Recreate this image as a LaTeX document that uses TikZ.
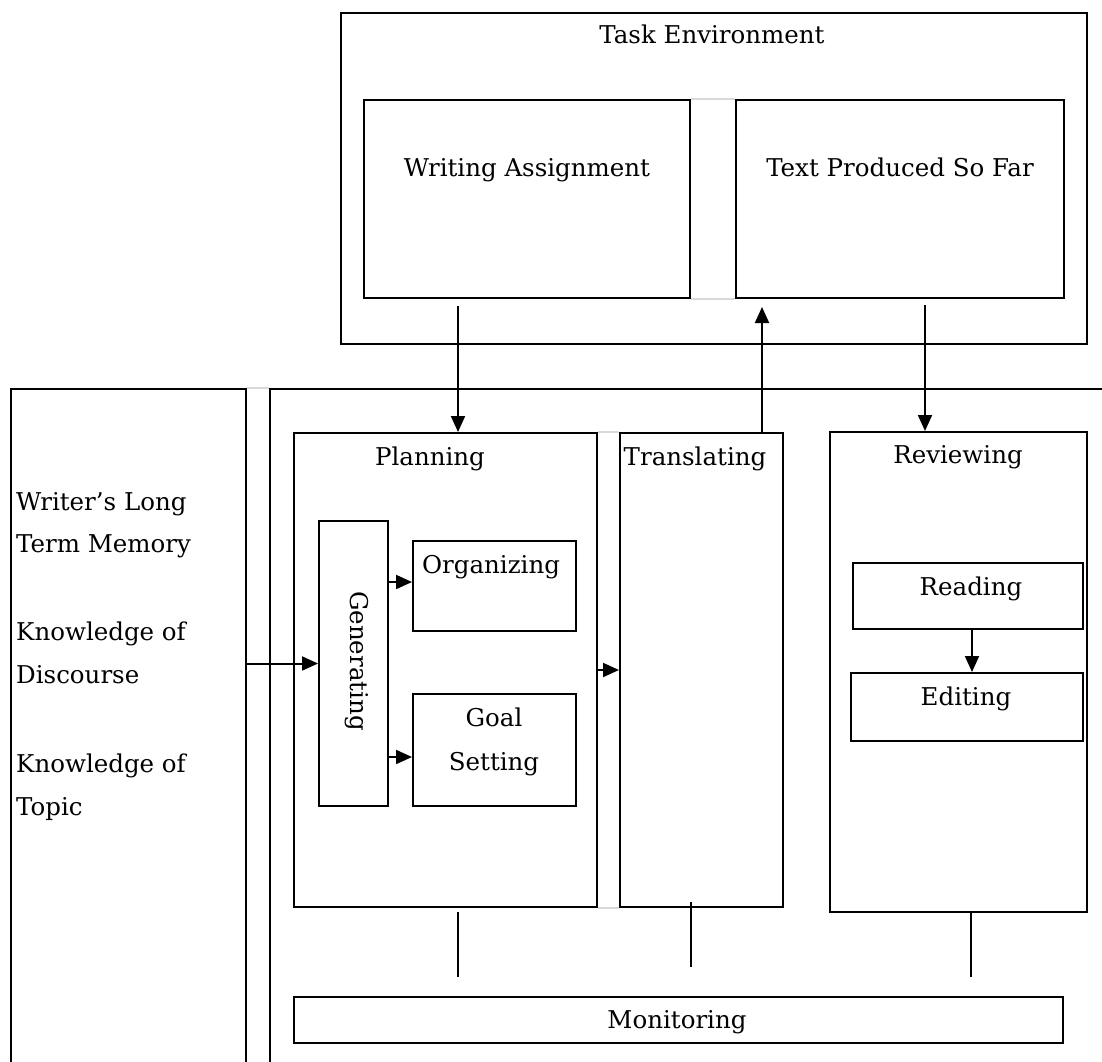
\documentclass[tikz,border=0pt]{standalone}
\usepackage{fontspec}
\setmainfont{DejaVu Serif}
\usetikzlibrary{arrows.meta}

\tikzset{
  box/.style={draw, line width=2pt, anchor=north west, inner sep=0pt},
  lbl/.style={anchor=base, inner sep=0pt},
  arr/.style={line width=2pt, -{Triangle[length=16pt,width=14pt]}},
  link/.style={line width=2pt},
  faint/.style={line width=2pt, black!15}
}

\begin{document}
\begin{tikzpicture}[x=1pt, y=-1pt, font=\fontsize{24.5}{43}\selectfont]
  \useasboundingbox (0,0) rectangle (1102,1061);
  \clip (0,0) rectangle (1102,1061);

  % task environment
  \node[box, minimum width=746pt, minimum height=331pt] (taskenv) at (340,12) {};
  \node[lbl] (tasktitle) at (712,43) {Task Environment};
  \node[box, minimum width=326pt, minimum height=198pt] (assign) at (363,99) {};
  \node[lbl] (assigntxt) at (527,176) {Writing Assignment};
  \node[box, minimum width=328pt, minimum height=198pt] (sofar) at (735,99) {};
  \node[lbl] (sofartxt) at (900,176) {Text Produced So Far};
  \draw[faint] (assign.north east) -- (sofar.north west);
  \draw[faint] (assign.south east) -- (sofar.south west);

  % long term memory
  \node[box, minimum width=235pt, minimum height=720pt] (ltm) at (10,388) {};
  \node[lbl, anchor=base west] (mem1) at (16,510) {Writer's Long};
  \node[lbl, anchor=base west] (mem2) at (16,552) {Term Memory};
  \node[lbl, anchor=base west] (disc1) at (16,640) {Knowledge of};
  \node[lbl, anchor=base west] (disc2) at (16,683) {Discourse};
  \node[lbl, anchor=base west] (topic1) at (16,772) {Knowledge of};
  \node[lbl, anchor=base west] (topic2) at (16,815) {Topic};

  % writing process
  \node[box, minimum width=900pt, minimum height=720pt] (process) at (269,388) {};
  \draw[faint] (ltm.north east) -- (process.north west);

  \node[box, minimum width=303pt, minimum height=474pt] (planning) at (293,432) {};
  \node[lbl] (plantxt) at (430,465) {Planning};
  \node[box, minimum width=69pt, minimum height=285pt] (gen) at (318,520) {};
  \node[lbl, rotate=-90] (gentxt) at (350,661) {Generating};
  \node[box, minimum width=163pt, minimum height=90pt] (org) at (412,540) {};
  \node[lbl] (orgtxt) at (491,573) {Organizing};
  \node[box, minimum width=163pt, minimum height=112pt] (goal) at (412,693) {};
  \node[lbl] (goaltxt1) at (494,726) {Goal};
  \node[lbl] (goaltxt2) at (494,770) {Setting};

  \node[box, minimum width=163pt, minimum height=474pt] (transl) at (619,432) {};
  \node[lbl] (transltxt) at (695,465) {Translating};
  \draw[faint] (planning.north east) -- (transl.north west);
  \draw[faint] (planning.south east) -- (transl.south west);

  \node[box, minimum width=257pt, minimum height=480pt] (review) at (829,431) {};
  \node[lbl] (reviewtxt) at (958,463) {Reviewing};
  \node[box, minimum width=230pt, minimum height=66pt] (reading) at (852,562) {};
  \node[lbl] (readingtxt) at (971,595) {Reading};
  \node[box, minimum width=232pt, minimum height=68pt] (editing) at (850,672) {};
  \node[lbl] (editingtxt) at (966,705) {Editing};

  \node[box, minimum width=769pt, minimum height=46pt] (monitor) at (293,996) {};
  \node[lbl] (monitortxt) at (677,1028) {Monitoring};

  % arrows
  \draw[arr] ([xshift=-69pt,yshift=-7pt]assign.south) -- ([xshift=12.5pt]planning.north);
  \draw[arr] ([xshift=60.5pt]transl.north) -- ([xshift=-138pt,yshift=-8pt]sofar.south);
  \draw[arr] ([xshift=25pt,yshift=-6pt]sofar.south) -- ([xshift=-33.5pt]review.north);
  \draw[arr] (gen.west -| ltm.east) -- (gen.west);
  \draw[arr] (planning.east) -- (transl.west);
  \coordinate (o1) at ([yshift=4pt]org.west);
  \draw[arr] (o1 -| gen.east) -- (o1);
  \coordinate (g1) at ([yshift=-7pt]goal.west);
  \draw[arr] (g1 -| gen.east) -- (g1);
  \draw[arr] ([xshift=4pt]reading.south) -- ([xshift=5pt]editing.north);

  % links to monitoring
  \coordinate (m1) at ([xshift=12.5pt]planning.south);
  \draw[link, shorten <=4pt, shorten >=19pt] (m1) -- (m1 |- monitor.north);
  \coordinate (m2) at ([xshift=-10.5pt]transl.south);
  \draw[link, shorten <=-6pt, shorten >=29pt] (m2) -- (m2 |- monitor.north);
  \coordinate (m3) at ([xshift=12.5pt]review.south);
  \draw[link, shorten >=19pt] (m3) -- (m3 |- monitor.north);
\end{tikzpicture}
\end{document}
